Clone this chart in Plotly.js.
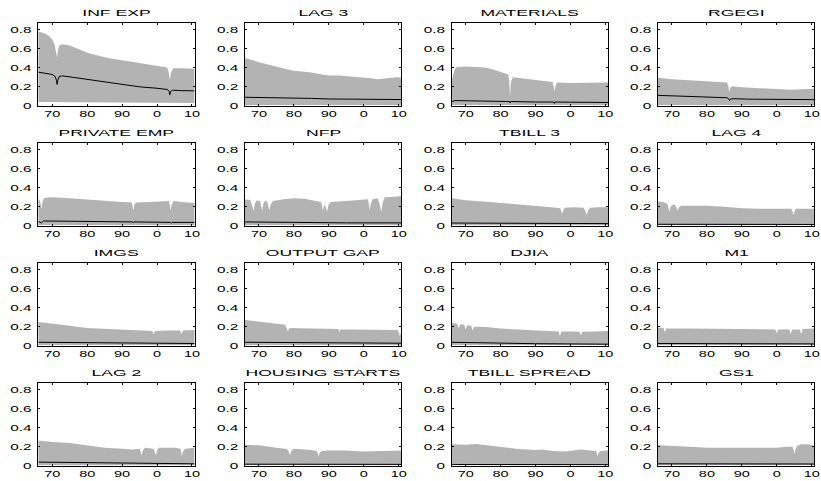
<!DOCTYPE html>
<html><head><meta charset="utf-8">
<script src="https://cdn.plot.ly/plotly-3.0.1.min.js"></script>
<style>html,body{margin:0;padding:0;background:#fff}#chart{width:821px;height:481px}</style>
</head><body><div id="chart"></div>
<script>
const TITLES = ['INF EXP','LAG 3','MATERIALS','RGEGI','PRIVATE EMP','NFP','TBILL 3','LAG 4',
  'IMGS','OUTPUT GAP','DJIA','M1','LAG 2','HOUSING STARTS','TBILL SPREAD','GS1'];
const X_TICK_VALUES = [1970,1980,1990,2000,2010];
const X_TICK_LABELS = ['70','80','90','0','10'];
const Y_TICK_VALUES = [0,0.2,0.4,0.6,0.8];
const Y_TICK_LABELS = ['0','0.2','0.4','0.6','0.8'];

// [year, value] pairs
const INF_EXP_UPPER = [[1966,0.785],[1967,0.775],[1968,0.76],[1969,0.74],[1970,0.70],[1970.7,0.64],[1971.1,0.56],[1971.35,0.51],[1971.6,0.58],[1972,0.635],[1973,0.65],[1975,0.635],[1978,0.59],[1980,0.56],[1983,0.53],[1986,0.505],[1990,0.48],[1994,0.455],[1998,0.43],[2001,0.415],[2002.9,0.405],[2003.3,0.36],[2003.65,0.27],[2004.0,0.35],[2004.6,0.395],[2007,0.395],[2010.75,0.39]];
const INF_EXP_MEDIAN = [[1966,0.355],[1968,0.345],[1970,0.33],[1970.8,0.31],[1971.2,0.27],[1971.4,0.225],[1971.6,0.27],[1972,0.31],[1973,0.315],[1976,0.30],[1980,0.28],[1985,0.255],[1990,0.225],[1995,0.20],[2000,0.185],[2003,0.172],[2003.45,0.15],[2003.65,0.115],[2003.85,0.15],[2004.5,0.165],[2007,0.16],[2010.75,0.158]];
const INF_EXP_LOWER = [[1966,0.04],[1990,0.035],[2010.75,0.03]];

const LAG3_UPPER = [[1966,0.505],[1968,0.48],[1970,0.46],[1972,0.44],[1975,0.41],[1978,0.385],[1980,0.37],[1983,0.36],[1985,0.35],[1988,0.33],[1990,0.32],[1993,0.32],[1995,0.315],[1998,0.305],[2000,0.30],[2002,0.29],[2004,0.28],[2006,0.29],[2008,0.295],[2009.5,0.30],[2010.75,0.295]];
const LAG3_MEDIAN = [[1966,0.09],[1975,0.088],[1980,0.083],[1985,0.078],[1990,0.072],[1995,0.07],[2000,0.068],[2010.75,0.066]];
const LAG3_LOWER = [[1966,0.008],[2010.75,0.005]];

const MATERIALS_UPPER = [[1966,0.26],[1966.4,0.33],[1966.9,0.39],[1967.5,0.41],[1970,0.415],[1973,0.41],[1976,0.40],[1979,0.37],[1981,0.35],[1982.2,0.33],[1982.5,0.25],[1982.7,0.09],[1982.95,0.25],[1983.5,0.30],[1986,0.29],[1990,0.27],[1993,0.26],[1994.9,0.25],[1995.2,0.2],[1995.4,0.15],[1995.65,0.2],[1996.1,0.245],[2000,0.24],[2005,0.24],[2010.75,0.245]];
const MATERIALS_MEDIAN = [[1966,0.045],[1967,0.055],[1975,0.05],[1982.5,0.045],[1982.7,0.03],[1982.9,0.045],[1990,0.04],[1995.2,0.04],[1995.4,0.025],[1995.6,0.04],[2000,0.038],[2010.75,0.035]];
const MATERIALS_LOWER = [[1966,0.008],[2010.75,0.006]];

const RGEGI_UPPER = [[1966,0.295],[1970,0.28],[1975,0.27],[1980,0.26],[1984,0.25],[1985.8,0.245],[1986.1,0.21],[1986.4,0.145],[1986.7,0.19],[1987.2,0.205],[1990,0.195],[1995,0.185],[2000,0.175],[2004,0.17],[2007,0.175],[2010.75,0.18]];
const RGEGI_MEDIAN = [[1966,0.11],[1970,0.105],[1975,0.10],[1980,0.095],[1984,0.09],[1985.8,0.085],[1986.3,0.07],[1986.5,0.055],[1986.7,0.07],[1987.5,0.075],[1992,0.07],[2000,0.065],[2010.75,0.065]];
const RGEGI_LOWER = [[1966,0.008],[2010.75,0.006]];

const PRIVATE_EMP_UPPER = [[1966,0.29],[1966.5,0.26],[1966.9,0.18],[1967.3,0.27],[1967.8,0.295],[1970,0.30],[1975,0.29],[1980,0.275],[1985,0.265],[1990,0.25],[1992.8,0.245],[1993.0,0.21],[1993.2,0.16],[1993.5,0.22],[1994,0.245],[1998,0.25],[2002,0.26],[2003.4,0.26],[2003.7,0.21],[2003.9,0.16],[2004.2,0.22],[2004.8,0.26],[2007,0.25],[2010.75,0.24]];
const PRIVATE_EMP_MEDIAN = [[1966,0.045],[1966.9,0.03],[1967.5,0.05],[1975,0.048],[1985,0.043],[1993,0.04],[1993.2,0.03],[1993.4,0.04],[2003.9,0.035],[2004.1,0.028],[2004.3,0.035],[2010.75,0.035]];
const PRIVATE_EMP_LOWER = [[1966,0.008],[2010.75,0.006]];

const NFP_UPPER = [[1966,0.277],[1967.5,0.27],[1968.0,0.22],[1968.4,0.155],[1968.8,0.23],[1969.3,0.265],[1970.3,0.26],[1970.7,0.21],[1970.9,0.16],[1971.2,0.22],[1971.7,0.265],[1972.4,0.25],[1972.8,0.2],[1973,0.16],[1973.3,0.22],[1974,0.26],[1977,0.28],[1980,0.29],[1983,0.285],[1986,0.265],[1987.8,0.25],[1988.1,0.2],[1988.3,0.16],[1988.6,0.21],[1988.9,0.22],[1989.2,0.19],[1989.5,0.145],[1989.9,0.22],[1990.5,0.25],[1995,0.26],[2000,0.275],[2001.2,0.28],[2001.5,0.22],[2001.7,0.16],[2002,0.23],[2002.5,0.28],[2004,0.29],[2004.6,0.22],[2005,0.145],[2005.4,0.24],[2006,0.30],[2010.75,0.31]];
const NFP_MEDIAN = [[1966,0.04],[1975,0.035],[1985,0.032],[1995,0.03],[2010.75,0.03]];
const NFP_LOWER = [[1966,0.008],[2010.75,0.006]];

const TBILL3_UPPER = [[1966,0.29],[1968,0.28],[1970,0.268],[1975,0.255],[1980,0.24],[1985,0.225],[1990,0.215],[1993,0.205],[1996,0.19],[1997.1,0.185],[1997.4,0.15],[1997.6,0.12],[1997.9,0.16],[1998.4,0.19],[2001,0.195],[2003.8,0.19],[2004.3,0.15],[2004.7,0.11],[2005,0.16],[2005.6,0.19],[2008,0.195],[2010.75,0.195]];
const TBILL3_MEDIAN = [[1966,0.028],[1990,0.025],[2010.75,0.022]];
const TBILL3_LOWER = [[1966,0.006],[2010.75,0.005]];

const LAG4_UPPER = [[1966,0.255],[1967.5,0.25],[1968.7,0.23],[1969,0.19],[1969.3,0.145],[1969.6,0.2],[1970.2,0.22],[1970.8,0.22],[1971.3,0.19],[1971.6,0.155],[1971.9,0.19],[1972.6,0.21],[1975,0.21],[1978,0.215],[1980,0.21],[1985,0.2],[1990,0.185],[1995,0.18],[2000,0.18],[2004.2,0.178],[2004.5,0.15],[2004.8,0.11],[2005.1,0.15],[2005.5,0.18],[2010.75,0.18]];
const LAG4_MEDIAN = [[1966,0.015],[2010.75,0.013]];
const LAG4_LOWER = [[1966,0.005],[2010.75,0.004]];

const IMGS_UPPER = [[1966,0.25],[1970,0.235],[1975,0.21],[1980,0.185],[1985,0.175],[1990,0.165],[1995,0.16],[1998.6,0.155],[1999,0.12],[1999.4,0.155],[2003,0.16],[2006.6,0.16],[2007,0.12],[2007.4,0.16],[2010.75,0.165]];
const IMGS_MEDIAN = [[1966,0.035],[1980,0.03],[1995,0.025],[2010.75,0.022]];
const IMGS_LOWER = [[1966,0.006],[2010.75,0.005]];

const OUTPUT_GAP_UPPER = [[1966,0.27],[1970,0.25],[1974,0.235],[1977.5,0.22],[1978,0.18],[1978.3,0.15],[1978.6,0.18],[1979.2,0.185],[1985,0.18],[1990,0.18],[1992.7,0.175],[1993,0.14],[1993.3,0.17],[1996,0.17],[2000,0.17],[2005,0.17],[2009.8,0.165],[2010.3,0.1],[2010.75,0.14]];
const OUTPUT_GAP_MEDIAN = [[1966,0.035],[1985,0.03],[2010.75,0.025]];
const OUTPUT_GAP_LOWER = [[1966,0.006],[2010.75,0.005]];

const DJIA_UPPER = [[1966,0.24],[1967.6,0.23],[1968,0.18],[1968.4,0.225],[1969.6,0.22],[1970,0.17],[1970.4,0.215],[1971.6,0.21],[1972,0.16],[1972.4,0.2],[1976,0.195],[1980,0.18],[1985,0.17],[1990,0.16],[1996.6,0.15],[1997,0.1],[1997.4,0.15],[2000,0.15],[2002.6,0.145],[2003,0.11],[2003.4,0.145],[2007,0.15],[2010.75,0.155]];
const DJIA_MEDIAN = [[1966,0.035],[1975,0.028],[1990,0.02],[2010.75,0.015]];
const DJIA_LOWER = [[1966,0.006],[2010.75,0.004]];

const M1_UPPER = [[1966,0.19],[1967.6,0.185],[1968,0.14],[1968.4,0.18],[1975,0.18],[1985,0.175],[1990,0.175],[1995,0.17],[1999.6,0.17],[2000,0.13],[2000.4,0.17],[2003.6,0.17],[2004,0.12],[2004.4,0.17],[2006.6,0.17],[2007,0.12],[2007.4,0.175],[2010.75,0.18]];
const M1_MEDIAN = [[1966,0.022],[2010.75,0.018]];
const M1_LOWER = [[1966,0.005],[2010.75,0.004]];

const LAG2_UPPER = [[1966,0.267],[1970,0.25],[1975,0.24],[1980,0.215],[1985,0.19],[1990,0.18],[1993,0.17],[1995,0.18],[1995.3,0.15],[1995.6,0.11],[1995.9,0.16],[1996.5,0.19],[1999,0.18],[1999.4,0.15],[1999.7,0.11],[2000,0.16],[2000.5,0.19],[2005,0.19],[2006.7,0.18],[2006.9,0.15],[2007.1,0.1],[2007.4,0.15],[2008,0.18],[2010.75,0.19]];
const LAG2_MEDIAN = [[1966,0.038],[1980,0.03],[1995,0.022],[2010.75,0.02]];
const LAG2_LOWER = [[1966,0.005],[2010.75,0.004]];

const HOUSING_UPPER = [[1966,0.22],[1970,0.215],[1975,0.19],[1978,0.175],[1978.5,0.15],[1978.9,0.11],[1979.3,0.16],[1980,0.18],[1985,0.165],[1986.5,0.155],[1986.8,0.13],[1987.1,0.1],[1987.4,0.14],[1988,0.155],[1990,0.16],[1995,0.16],[2000,0.15],[2003,0.15],[2005,0.155],[2010.75,0.16]];
const HOUSING_MEDIAN = [[1966,0.016],[2010.75,0.014]];
const HOUSING_LOWER = [[1966,0.004],[2010.75,0.004]];

const TBILL_SPREAD_UPPER = [[1966,0.225],[1970,0.22],[1973,0.23],[1975,0.22],[1980,0.195],[1985,0.175],[1990,0.165],[1992,0.17],[1995,0.155],[1998,0.15],[2000,0.155],[2003,0.17],[2006,0.16],[2007.4,0.155],[2007.7,0.1],[2008.1,0.14],[2008.6,0.155],[2010.75,0.16]];
const TBILL_SPREAD_MEDIAN = [[1966,0.013],[2010.75,0.011]];
const TBILL_SPREAD_LOWER = [[1966,0.004],[2010.75,0.004]];

const GS1_UPPER = [[1966,0.215],[1970,0.205],[1975,0.2],[1980,0.19],[1985,0.19],[1990,0.185],[1995,0.185],[2000,0.19],[2003,0.2],[2004.5,0.2],[2004.8,0.17],[2005.1,0.125],[2005.4,0.18],[2005.8,0.21],[2007,0.225],[2009,0.225],[2010.75,0.21]];
const GS1_MEDIAN = [[1966,0.02],[2010.75,0.018]];
const GS1_LOWER = [[1966,0.005],[2010.75,0.004]];

const UPPER = [INF_EXP_UPPER,LAG3_UPPER,MATERIALS_UPPER,RGEGI_UPPER,PRIVATE_EMP_UPPER,NFP_UPPER,TBILL3_UPPER,LAG4_UPPER,
  IMGS_UPPER,OUTPUT_GAP_UPPER,DJIA_UPPER,M1_UPPER,LAG2_UPPER,HOUSING_UPPER,TBILL_SPREAD_UPPER,GS1_UPPER];
const MEDIAN = [INF_EXP_MEDIAN,LAG3_MEDIAN,MATERIALS_MEDIAN,RGEGI_MEDIAN,PRIVATE_EMP_MEDIAN,NFP_MEDIAN,TBILL3_MEDIAN,LAG4_MEDIAN,
  IMGS_MEDIAN,OUTPUT_GAP_MEDIAN,DJIA_MEDIAN,M1_MEDIAN,LAG2_MEDIAN,HOUSING_MEDIAN,TBILL_SPREAD_MEDIAN,GS1_MEDIAN];
const LOWER = [INF_EXP_LOWER,LAG3_LOWER,MATERIALS_LOWER,RGEGI_LOWER,PRIVATE_EMP_LOWER,NFP_LOWER,TBILL3_LOWER,LAG4_LOWER,
  IMGS_LOWER,OUTPUT_GAP_LOWER,DJIA_LOWER,M1_LOWER,LAG2_LOWER,HOUSING_LOWER,TBILL_SPREAD_LOWER,GS1_LOWER];

const W = 821, H = 481;
const COL_LEFT = [38.3, 245, 451.7, 658];
const COL_W = 156.3;
const ROW_TOP = [23.3, 143.2, 263.1, 383.2];
const ROW_H = 82.5;
const FONT = 'Liberation Sans, Arial, Helvetica, sans-serif';

const traces = [];
const layout = {
  width: W, height: H, margin: {l:0, r:0, t:0, b:0},
  paper_bgcolor: '#fff', plot_bgcolor: '#fff', showlegend: false,
  annotations: []
};

for (let i = 0; i < 16; i++) {
  const r = Math.floor(i / 4), c = i % 4;
  const n = i === 0 ? '' : String(i + 1);
  const xa = 'x' + n, ya = 'y' + n;
  const up = UPPER[i], lo = LOWER[i], md = MEDIAN[i];
  traces.push({
    type: 'scatter', mode: 'lines', xaxis: xa, yaxis: ya,
    x: up.map(p => p[0]).concat(lo.map(p => p[0]).reverse()),
    y: up.map(p => p[1]).concat(lo.map(p => p[1]).reverse()),
    fill: 'toself', fillcolor: '#b3b3b3', line: {width: 0, color: '#b3b3b3'},
    hoverinfo: 'skip'
  });
  traces.push({
    type: 'scatter', mode: 'lines', xaxis: xa, yaxis: ya,
    x: md.map(p => p[0]), y: md.map(p => p[1]),
    line: {color: '#000', width: 1}, hoverinfo: 'skip'
  });
  const x0 = COL_LEFT[c] / W, x1 = (COL_LEFT[c] + COL_W) / W;
  const y1 = 1 - ROW_TOP[r] / H, y0 = 1 - (ROW_TOP[r] + ROW_H) / H;
  layout['xaxis' + n] = {
    domain: [x0, x1], anchor: ya, range: [1966, 2010.75],
    tickmode: 'array', tickvals: X_TICK_VALUES, ticktext: X_TICK_LABELS,
    ticks: 'inside', ticklen: 2, tickcolor: '#000', tickwidth: 1,
    showline: true, linecolor: '#000', linewidth: 1, mirror: 'ticks',
    showgrid: false, zeroline: false,
    tickfont: {family: FONT, size: 8.5, color: '#000'}
  };
  layout['yaxis' + n] = {
    domain: [y0, y1], anchor: xa, range: [0, 0.87],
    tickmode: 'array', tickvals: Y_TICK_VALUES, ticktext: Y_TICK_LABELS,
    ticks: 'inside', ticklen: 2, tickcolor: '#000', tickwidth: 1,
    showline: true, linecolor: '#000', linewidth: 1, mirror: 'ticks',
    showgrid: false, zeroline: false, ticklabelstandoff: 4,
    tickfont: {family: FONT, size: 8.5, color: '#000'}
  };
  layout.annotations.push({
    text: TITLES[i], xref: 'paper', yref: 'paper',
    x: (x0 + x1) / 2, y: 1 - (ROW_TOP[r] - 10.3) / H,
    xanchor: 'center', yanchor: 'middle', showarrow: false,
    font: {family: FONT, size: 9.5, color: '#000'}
  });
}

function stretchSet(sel, factor) {
  document.querySelectorAll(sel).forEach(t => {
    const txt = t.textContent;
    if (t.getAttribute('data-stretched') === txt && t.hasAttribute('textLength')) return;
    t.removeAttribute('textLength');
    const w = t.getComputedTextLength();
    if (!w) return;
    t.setAttribute('textLength', (w * factor).toFixed(2));
    t.setAttribute('lengthAdjust', 'spacingAndGlyphs');
    t.setAttribute('data-stretched', txt);
  });
}
function stretchText() {
  stretchSet('#chart .xaxislayer-above text', 1.7);
  stretchSet('#chart .yaxislayer-above text', 1.8);
  stretchSet('#chart .annotation-text', 1.85);
}

Plotly.newPlot('chart', traces, layout, {staticPlot: true, displayModeBar: false}).then(gd => {
  stretchText();
  gd.on('plotly_afterplot', stretchText);
  requestAnimationFrame(stretchText);
  setTimeout(stretchText, 30);
  setTimeout(stretchText, 200);
});
</script>
</body></html>
